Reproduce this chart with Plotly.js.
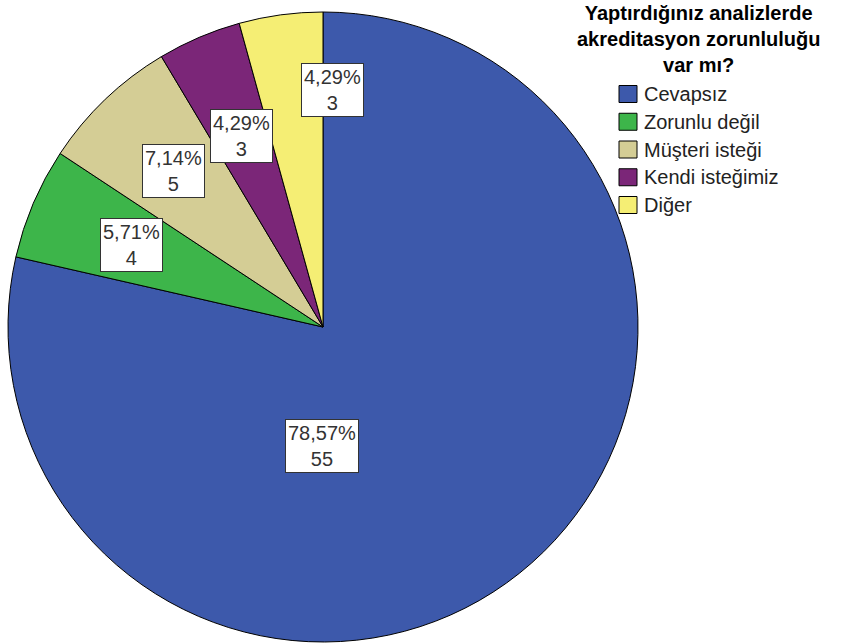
<!DOCTYPE html>
<html>
<head>
<meta charset="utf-8">
<script src="https://cdn.plot.ly/plotly-3.0.1.min.js"></script>
<style>html,body{margin:0;padding:0;background:#fff;}#chart{width:842px;height:644px;}</style>
</head>
<body>
<div id="chart"></div>
<script>
// ---- data ----
const categories = ["Cevapsız", "Zorunlu değil", "Müşteri isteği", "Kendi isteğimiz", "Diğer"];
const counts = [55, 4, 5, 3, 3];
const legendTitleLines = ["Yaptırdığınız analizlerde", "akreditasyon zorunluluğu", "var mı?"];

// ---- style ----
const colors = ["#3D59AB", "#3DB54A", "#D4CD95", "#7B2678", "#F5EE74"];
const W = 842, H = 644;
const domainX = [8 / W, 638 / W];
const domainY = [1 - 642 / H, 1 - 12 / H];
// label placement tweaks (angle shift in degrees, radial fraction)
const labelAngleShift = [39, 0, 0, 0, 10];
const labelRadial = [0.378, 0.66, 0.686, 0.66, 0.753];

const total = counts.reduce((a, b) => a + b, 0);
const fmtPct = v => (v / total * 100).toFixed(2).replace('.', ',') + '%';

const pie = {
  type: 'pie',
  labels: categories,
  values: counts,
  sort: false,
  direction: 'clockwise',
  rotation: 0,
  textinfo: 'none',
  hoverinfo: 'label+value+percent',
  marker: { colors: colors, line: { color: '#000', width: 1 } },
  domain: { x: domainX, y: domainY },
  showlegend: false
};

// geometry of pie in pixels (derived from domain)
const dxPx = (domainX[1] - domainX[0]) * W, dyPx = (domainY[1] - domainY[0]) * H;
const cx = (domainX[0] + domainX[1]) / 2 * W;
const cy = (1 - (domainY[0] + domainY[1]) / 2) * H;
const R = Math.min(dxPx, dyPx) / 2;

const annotations = [];
let cum = 0;
counts.forEach((v, i) => {
  const mid = (cum + v / 2) / total * 360;
  cum += v;
  const ang = (mid + labelAngleShift[i]) * Math.PI / 180;
  const px = cx + R * labelRadial[i] * Math.sin(ang);
  const py = cy - R * labelRadial[i] * Math.cos(ang);
  annotations.push({
    xref: 'paper', yref: 'paper', x: px / W, y: 1 - py / H,
    xanchor: 'center', yanchor: 'middle', showarrow: false,
    text: fmtPct(v) + '<br>' + v,
    font: { family: 'Liberation Sans, Arial, sans-serif', size: 20, color: '#333' },
    bgcolor: '#fff', bordercolor: '#333', borderwidth: 1, borderpad: 2
  });
});

// legend title (one text block)
annotations.push({
  xref: 'paper', yref: 'paper', x: 698 / W, y: 1 - 39 / H,
  xanchor: 'center', yanchor: 'middle', showarrow: false, align: 'center',
  text: '<b>' + legendTitleLines.join('<br>') + '</b>',
  font: { family: 'Liberation Sans, Arial, sans-serif', size: 20, color: '#000' }
});

// manual legend
const shapes = [];
const legX0 = 619, legSw = 18, legSh = 17, legY0 = 94, legStep = 27.75, legTextX = 642;
categories.forEach((c, i) => {
  const yc = legY0 + i * legStep;
  shapes.push({
    type: 'rect', xref: 'paper', yref: 'paper',
    x0: legX0 / W, x1: (legX0 + legSw) / W,
    y0: 1 - (yc - legSh / 2) / H, y1: 1 - (yc + legSh / 2) / H,
    fillcolor: colors[i], line: { color: '#000', width: 1 }
  });
  annotations.push({
    xref: 'paper', yref: 'paper', x: legTextX / W, y: 1 - yc / H,
    xanchor: 'left', yanchor: 'middle', showarrow: false,
    text: c,
    font: { family: 'Liberation Sans, Arial, sans-serif', size: 20, color: '#222' }
  });
});

const layout = {
  width: W, height: H,
  margin: { l: 0, r: 0, t: 0, b: 0 },
  paper_bgcolor: '#fff',
  showlegend: false,
  annotations: annotations,
  shapes: shapes
};

Plotly.newPlot('chart', [pie], layout, { displayModeBar: false, staticPlot: true });
</script>
</body>
</html>
